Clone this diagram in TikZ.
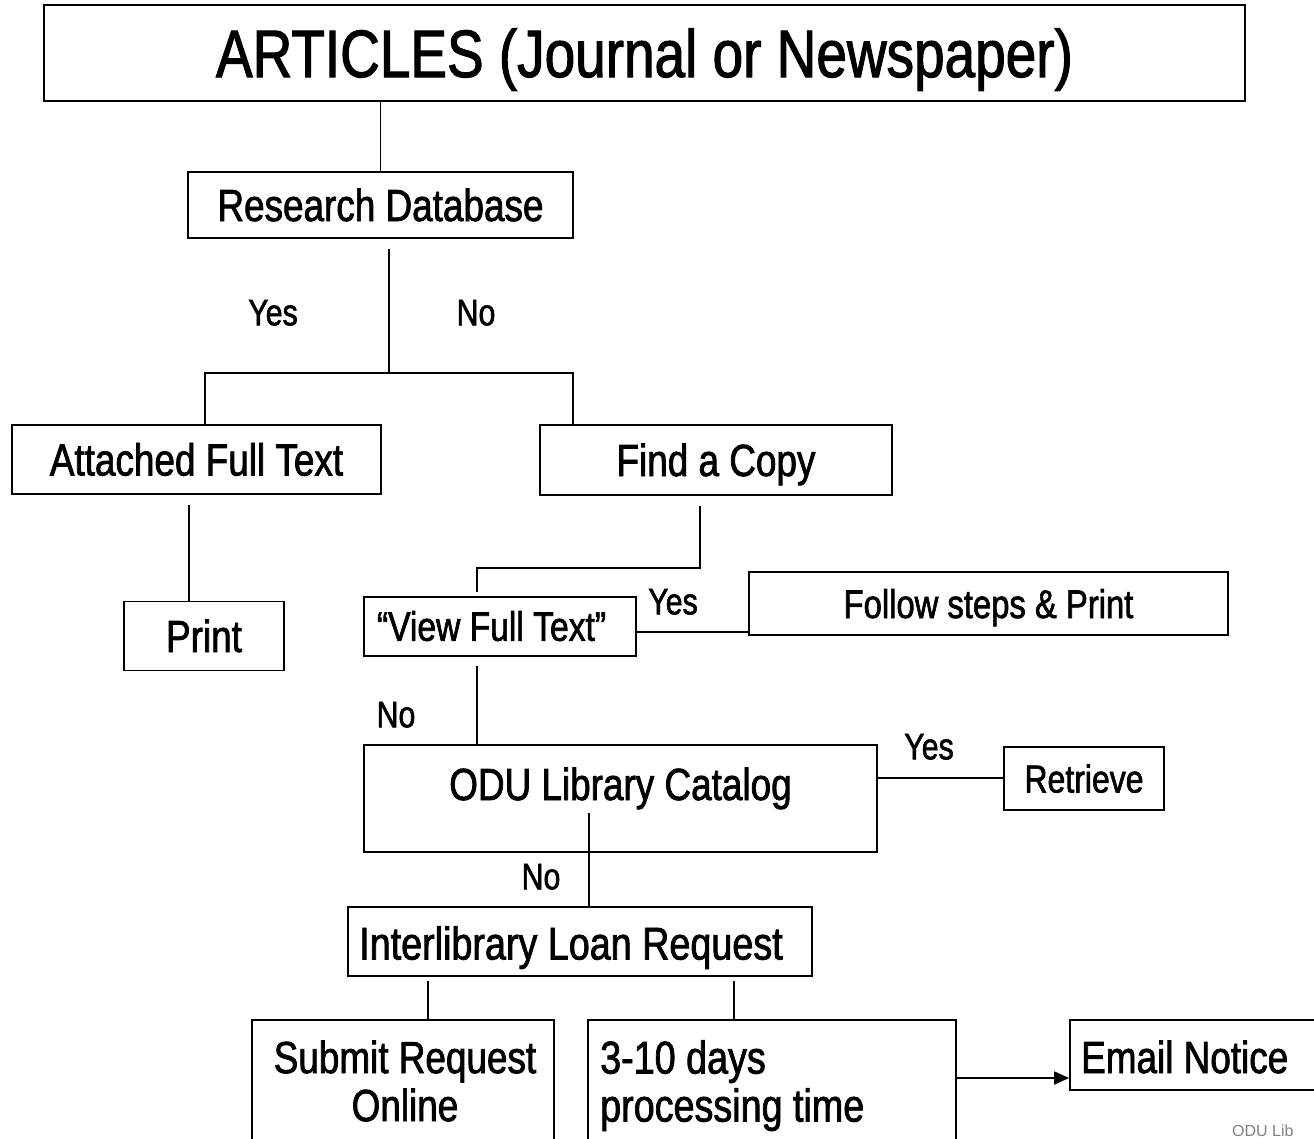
\documentclass[tikz,border=0pt]{standalone}
\usepackage{fontspec}
\setmainfont[FakeStretch=0.82, FakeBold=1.6, BoldFont={Liberation Sans}, BoldFeatures={FakeStretch=0.82, FakeBold=1.6}]{Liberation Sans}
\newfontfamily\notefont{Liberation Sans}
\usepackage{xcolor}
\usepackage{tikz}
\usetikzlibrary{arrows.meta, positioning, calc}
\definecolor{notegray}{RGB}{128,128,128}

\begin{document}
\begin{tikzpicture}[
    x=1pt, y=-1pt,
    size45/.style={font=\fontsize{45}{50}\selectfont, text height=32pt, text depth=0pt},
    size40/.style={font=\fontsize{40}{46}\selectfont, text height=29pt, text depth=0pt},
    box/.style={draw, line width=1.8pt, inner sep=0pt, size45},
    boxtext/.style={inner sep=0pt, size45},
    answer/.style={inner sep=0pt, font=\fontsize{37}{42}\selectfont, text height=26.5pt, text depth=0pt},
    link/.style={line width=1.8pt},
    flow/.style={link, -{Triangle[length=15pt, width=13pt]}}
]
    \useasboundingbox (0,0) rectangle (1314,1138);
    \clip (0,0) rectangle (1314,1138);

    % Title
    \node[box, minimum width=1201, minimum height=96, font=\fontsize{67}{72}\selectfont, text height=48pt] (articles) at (644.5,53) {ARTICLES (Journal or Newspaper)};

    % First level
    \node[box, minimum width=385, minimum height=66] (rdb) at (380.5,205) {Research Database};
    \node[box, minimum width=369, minimum height=69] (fulltext) at (196.5,459.5) {Attached Full Text};
    \node[box, minimum width=352, minimum height=70] (findcopy) at (716,460) {Find a Copy};
    \node[box, minimum width=160, minimum height=69] (print) at (204,636) {Print};

    % Find a Copy branch
    \node[box, minimum width=272, minimum height=59] (viewfull) at (500,626.5) {};
    \node[boxtext, font=\fontsize{41}{46}\selectfont, text height=29.5pt] (viewfulltxt) at (491.5,626) {``View Full Text''};
    \node[box, size40, minimum width=479, minimum height=63] (steps) at (988.5,603.5) {Follow steps \& Print};
    \node[box, minimum width=513, minimum height=107] (catalog) at (620.5,798.5) {};
    \node[boxtext] (catalogtxt) at (620.5,784) {ODU Library Catalog};
    \node[box, minimum width=160, minimum height=63, font=\fontsize{39}{44}\selectfont, text height=28pt] (retrieve) at (1084,778.5) {Retrieve};

    % Interlibrary loan
    \node[box, minimum width=464, minimum height=69] (ill) at (580,941.5) {};
    \node[boxtext, font=\fontsize{46}{50}\selectfont, text height=33pt] (illtxt) at (571,943) {Interlibrary Loan Request};
    \node[box, minimum width=302, minimum height=140] (submit) at (403,1090) {};
    \node[inner sep=0pt, align=center, font=\fontsize{45}{48}\selectfont] (submittxt) at (405,1081) {Submit Request\\Online};
    \node[box, minimum width=368, minimum height=140] (days) at (772,1090) {};
    \node[inner sep=0pt, align=left, anchor=north west, font=\fontsize{46}{48}\selectfont] (daystxt) at (600,1040) {3-10 days\\processing time};
    \node[box, minimum width=260, minimum height=70] (email) at (1200,1055) {};
    \node[boxtext, anchor=west] (emailtxt) at (1081,1057) {Email Notice};
    \node[inner sep=0pt, anchor=west, text=notegray, font=\notefont\fontsize{16}{18}\selectfont] (footer) at (1232,1131) {ODU Lib};

    % Connectors
    \coordinate (split) at (389,373);
    \draw[link] (rdb.north |- articles.south) -- (rdb.north);
    \draw[link] (split |- rdb.south) ++(0,10) -- (split);
    \draw[link] (fulltext.north -| 205,0) |- (split) -| (findcopy.north -| 573,0);
    \draw[link] (print.north -| 189,0) ++(0,-96) -- (print.north -| 189,0);
    \draw[link] ([xshift=-16]findcopy.south) ++(0,10) |- (477,568) -- ([yshift=4]viewfull.north -| 477,0);
    \draw[link] (viewfull.east |- 0,632) -- (steps.west |- 0,632);
    \draw[link] (viewfull.south -| 477,0) ++(0,9) -- (catalog.north -| 477,0);
    \draw[link] (catalog.east |- 0,778) -- (retrieve.west |- 0,778);
    \draw[link] (catalog.south -| 589,0) ++(0,-40) -- (ill.north -| 589,0);
    \draw[link] ([yshift=-4]ill.south -| 428,0) -- (submit.north -| 428,0);
    \draw[link] ([yshift=-4]ill.south -| 734,0) -- (days.north -| 734,0);
    \draw[flow] (days.east |- 0,1078) -- (email.west |- 0,1078);

    % Answers
    \node[answer] (yes1) at (273,312) {Yes};
    \node[answer] (no1) at (476,312) {No};
    \node[answer] (yes2) at (673,601) {Yes};
    \node[answer] (no2) at (396,714) {No};
    \node[answer] (yes3) at (929,746) {Yes};
    \node[answer] (no3) at (541,876) {No};
\end{tikzpicture}
\end{document}
